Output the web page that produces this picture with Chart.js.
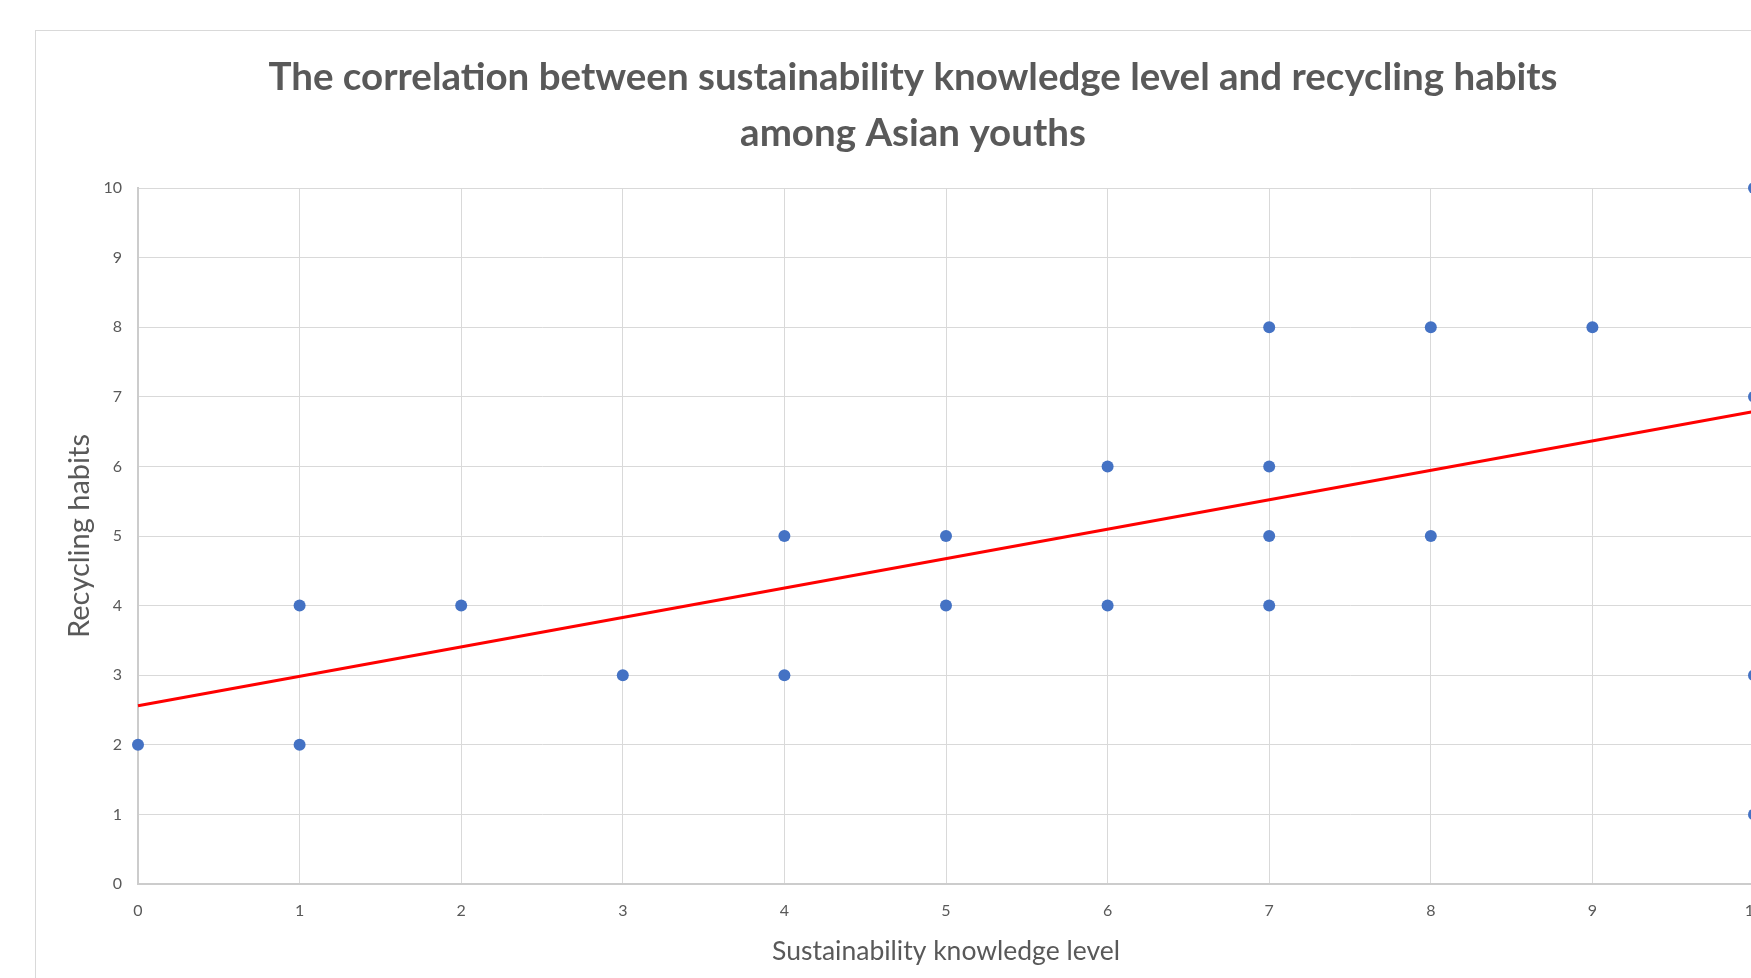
<!DOCTYPE html>
<html>
<head>
<meta charset="utf-8">
<script src="https://cdn.jsdelivr.net/npm/chart.js@4.4.1/dist/chart.umd.min.js"></script>
<style>
html, body { margin: 0; padding: 0; background: #fff; overflow: hidden; }
#wrap { position: relative; width: 1751px; height: 978px; overflow: hidden; background: #fff; }
#frame { position: absolute; left: 35px; top: 30px; width: 1900px; height: 1100px; border: 1px solid #d9d9d9; box-sizing: border-box; }
#box { position: absolute; left: 0; top: 0; width: 1826px; height: 978px; }
</style>
</head>
<body>
<div id="wrap">
  <div id="frame"></div>
  <div id="box"><canvas id="c" width="1826" height="978"></canvas></div>
</div>
<script>
// Data
const knowledgeLevel = [0, 1, 1, 2, 3, 4, 4, 5, 5, 6, 6, 7, 7, 7, 7, 8, 8, 9, 10, 10, 10, 10];
const recyclingHabits = [2, 2, 4, 4, 3, 3, 5, 4, 5, 4, 6, 4, 5, 6, 8, 5, 8, 8, 1, 3, 7, 10];
const trendKnowledge = [0, 10];
const trendHabits = [2.56, 6.79];
const titleLines = ['The correlation between sustainability knowledge level and recycling habits', 'among Asian youths'];
const xAxisTitle = 'Sustainability knowledge level';
const yAxisTitle = 'Recycling habits';

const points = knowledgeLevel.map((x, i) => ({ x: x, y: recyclingHabits[i] }));
const trend = trendKnowledge.map((x, i) => ({ x: x, y: trendHabits[i] }));

const textColor = '#595959';
const gridColor = '#d9d9d9';

new Chart(document.getElementById('c'), {
  type: 'scatter',
  data: {
    datasets: [
      {
        label: 'Recycling habits',
        data: points,
        pointRadius: 6,
        pointHoverRadius: 6,
        pointBackgroundColor: '#4472C4',
        pointBorderWidth: 0,
        showLine: false,
        clip: false,
        order: 0
      },
      {
        label: 'Trend',
        type: 'line',
        data: trend,
        borderColor: '#FF0000',
        borderWidth: 3,
        pointRadius: 0,
        fill: false,
        clip: false,
        order: 1
      }
    ]
  },
  options: {
    responsive: false,
    animation: false,
    devicePixelRatio: 1,
    layout: { padding: { left: 0, right: 0, top: 0, bottom: 0 } },
    plugins: {
      legend: { display: false },
      tooltip: { enabled: false },
      title: {
        display: true,
        text: titleLines,
        color: textColor,
        font: { family: 'Lato', weight: 'bold', size: 38.5, lineHeight: 56 / 38.5 },
        padding: { top: 50, bottom: 26 }
      }
    },
    scales: {
      x: {
        type: 'linear',
        min: 0,
        max: 10,
        afterFit: s => { s.height = 94; },
        ticks: { stepSize: 1, color: textColor, font: { family: 'Lato', size: 16, lineHeight: 1.2 }, padding: 17 },
        grid: { color: gridColor, lineWidth: 1, drawTicks: false },
        border: { color: '#cccccc', width: 2 },
        title: {
          display: true,
          text: xAxisTitle,
          color: textColor,
          font: { family: 'Lato', size: 26.5, lineHeight: 1.25 },
          padding: { top: 0, bottom: 10 }
        }
      },
      y: {
        type: 'linear',
        min: 0,
        max: 10,
        afterFit: s => { s.width = 138; },
        ticks: { stepSize: 1, color: textColor, font: { family: 'Lato', size: 16, lineHeight: 1.2 }, padding: 16 },
        grid: { color: gridColor, lineWidth: 1, drawTicks: false },
        border: { color: '#cccccc', width: 2 },
        title: {
          display: true,
          text: yAxisTitle,
          color: textColor,
          font: { family: 'Lato', size: 29, lineHeight: 1.25 },
          padding: { top: 62, bottom: 0 }
        }
      },
      spacer: {
        type: 'linear',
        position: 'right',
        display: true,
        min: 0,
        max: 1,
        afterFit: s => { s.width = 72; },
        ticks: { display: false },
        grid: { display: false, drawTicks: false },
        border: { display: false }
      }
    }
  }
});
</script>
</body>
</html>
